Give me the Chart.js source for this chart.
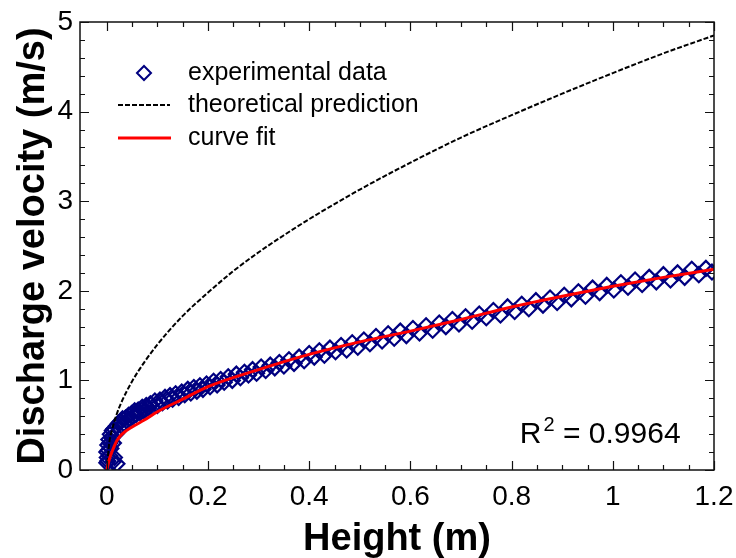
<!DOCTYPE html>
<html>
<head>
<meta charset="utf-8">
<script src="https://cdn.jsdelivr.net/npm/chart.js@4.4.1/dist/chart.umd.min.js"></script>
<style>
  html, body { margin: 0; padding: 0; background: #fff; }
  #wrap { width: 736px; height: 558px; }
</style>
</head>
<body>
<div id="wrap"><canvas id="velChart" width="736" height="558"></canvas></div>
<script>
// measured points (height m, velocity m/s)
const expH = [0.000, 0.000, 0.001, 0.002, 0.002, 0.003, 0.004, 0.005, 0.006, 0.007, 0.008, 0.010, 0.011, 0.012,
  0.013, 0.014, 0.015, 0.017, 0.019, 0.020, 0.021, 0.023, 0.025, 0.027, 0.029, 0.031, 0.034, 0.037, 0.040,
  0.043, 0.046, 0.049, 0.052, 0.055, 0.058, 0.062, 0.066, 0.070, 0.074, 0.078, 0.082, 0.086, 0.090, 0.095,
  0.100, 0.105, 0.110, 0.115, 0.120, 0.125, 0.130, 0.136, 0.142, 0.148, 0.154, 0.160, 0.166, 0.172, 0.178,
  0.184, 0.190, 0.197, 0.204, 0.211, 0.218, 0.225, 0.232, 0.240, 0.248, 0.256, 0.264, 0.272, 0.280, 0.288,
  0.296, 0.305, 0.314, 0.323, 0.332, 0.341, 0.350, 0.360, 0.370, 0.380, 0.390, 0.400, 0.410, 0.420, 0.430,
  0.441, 0.452, 0.463, 0.474, 0.485, 0.496, 0.508, 0.520, 0.532, 0.544, 0.556, 0.568, 0.580, 0.592, 0.605,
  0.618, 0.631, 0.644, 0.657, 0.670, 0.683, 0.696, 0.709, 0.722, 0.736, 0.750, 0.764, 0.778, 0.792, 0.806,
  0.820, 0.834, 0.848, 0.862, 0.876, 0.890, 0.904, 0.918, 0.932, 0.946, 0.960, 0.974, 0.988, 1.002, 1.016,
  1.030, 1.044, 1.058, 1.072, 1.086, 1.100, 1.114, 1.128, 1.142, 1.156, 1.170, 1.184, 1.196];
const expV = [0.08, 0.20, 0.14, 0.28, 0.10, 0.22, 0.34, 0.16, 0.30, 0.40, 0.24, 0.36, 0.44, 0.09,
  0.30, 0.46, 0.14, 0.40, 0.49, 0.07, 0.42, 0.52, 0.46, 0.54, 0.49, 0.57, 0.52, 0.58, 0.55,
  0.61, 0.57, 0.63, 0.60, 0.66, 0.62, 0.67, 0.64, 0.70, 0.66, 0.72, 0.69, 0.74, 0.70, 0.77,
  0.72, 0.78, 0.75, 0.81, 0.77, 0.83, 0.79, 0.85, 0.81, 0.87, 0.84, 0.90, 0.86, 0.92, 0.88,
  0.94, 0.90, 0.96, 0.93, 0.99, 0.95, 1.01, 0.98, 1.04, 1.00, 1.07, 1.03, 1.09, 1.06, 1.12,
  1.08, 1.15, 1.11, 1.17, 1.14, 1.20, 1.16, 1.23, 1.19, 1.26, 1.22, 1.30, 1.26, 1.33, 1.28,
  1.36, 1.32, 1.39, 1.34, 1.42, 1.37, 1.45, 1.41, 1.49, 1.44, 1.52, 1.47, 1.55, 1.50, 1.58,
  1.53, 1.61, 1.56, 1.64, 1.60, 1.68, 1.63, 1.71, 1.66, 1.74, 1.70, 1.78, 1.73, 1.82, 1.77,
  1.85, 1.80, 1.89, 1.84, 1.92, 1.87, 1.95, 1.91, 1.99, 1.94, 2.03, 1.98, 2.06, 2.01, 2.09,
  2.04, 2.12, 2.07, 2.15, 2.10, 2.18, 2.12, 2.20, 2.15, 2.24, 2.18, 2.25, 2.21];

// theoretical prediction
const theoH = [0, 0.005, 0.01, 0.02, 0.03, 0.05, 0.075, 0.1, 0.15, 0.2, 0.25, 0.3, 0.35, 0.4, 0.5, 0.6, 0.7, 0.8, 0.9, 1.0, 1.1, 1.2];
const theoV = [0, 0.31, 0.44, 0.63, 0.77, 0.99, 1.21, 1.40, 1.72, 1.98, 2.22, 2.43, 2.62, 2.80, 3.13, 3.43, 3.71, 3.96, 4.20, 4.43, 4.65, 4.85];

// curve fit
const fitH = [0, 0.005, 0.01, 0.02, 0.03, 0.05, 0.075, 0.1, 0.15, 0.2, 0.3, 0.4, 0.5, 0.6, 0.7, 0.8, 0.9, 1.0, 1.1, 1.2];
const fitV = [0, 0.12, 0.20, 0.33, 0.40, 0.48, 0.56, 0.65, 0.79, 0.93, 1.12, 1.29, 1.43, 1.55, 1.68, 1.82, 1.94, 2.05, 2.15, 2.24];

const xTicks = [0, 0.2, 0.4, 0.6, 0.8, 1, 1.2];
const xTickLabels = ["0", "0.2", "0.4", "0.6", "0.8", "1", "1.2"];
const yTicks = [0, 1, 2, 3, 4, 5];
const rSquared = "0.9964";

const FONT = "'Liberation Sans', Arial, sans-serif";
const NAVY = "#000080";

function pts(xs, ys) {
    return xs.map((x, i) => ({ x: x, y: ys[i] }));
}

// frame + inward ticks on all four sides
const framePlugin = {
    id: "frame",
    afterDraw(chart) {
        const ctx = chart.ctx, a = chart.chartArea;
        const xs = chart.scales.x, ys = chart.scales.y;
        ctx.save();
        ctx.strokeStyle = "#111";
        ctx.lineWidth = 1.5;
        ctx.strokeRect(a.left, a.top, a.right - a.left, a.bottom - a.top);
        ctx.lineWidth = 1.2;
        ctx.beginPath();
        for (let i = 0; i <= 24; i++) {
            const v = i * 0.05;
            const px = Math.round(xs.getPixelForValue(v)) + 0.5;
            const len = (i % 4 === 0) ? 9 : 5;
            ctx.moveTo(px, a.bottom); ctx.lineTo(px, a.bottom - len);
            ctx.moveTo(px, a.top); ctx.lineTo(px, a.top + len);
        }
        for (let i = 0; i <= 25; i++) {
            const v = i * 0.2;
            const py = Math.round(ys.getPixelForValue(v)) + 0.5;
            const len = (i % 5 === 0) ? 9 : 5;
            ctx.moveTo(a.left, py); ctx.lineTo(a.left + len, py);
            ctx.moveTo(a.right, py); ctx.lineTo(a.right - len, py);
        }
        ctx.stroke();
        ctx.restore();
    }
};

// legend in the upper left and the R^2 note
const notesPlugin = {
    id: "notes",
    afterDraw(chart) {
        const ctx = chart.ctx;
        const xs = chart.scales.x, ys = chart.scales.y;
        ctx.save();
        ctx.font = "25px " + FONT;
        ctx.fillStyle = "#000";
        ctx.textBaseline = "middle";
        ctx.textAlign = "left";

        const rows = [73, 105, 138];
        // diamond
        ctx.strokeStyle = NAVY;
        ctx.lineWidth = 2;
        ctx.beginPath();
        ctx.moveTo(137, rows[0]); ctx.lineTo(144, rows[0] - 7);
        ctx.lineTo(151, rows[0]); ctx.lineTo(144, rows[0] + 7);
        ctx.closePath();
        ctx.stroke();
        // dashed
        ctx.strokeStyle = "#000";
        ctx.lineWidth = 2;
        ctx.setLineDash([5, 2]);
        ctx.beginPath();
        ctx.moveTo(118, rows[1]); ctx.lineTo(170, rows[1]);
        ctx.stroke();
        ctx.setLineDash([]);
        // red
        ctx.strokeStyle = "#ff0000";
        ctx.lineWidth = 3;
        ctx.beginPath();
        ctx.moveTo(118, rows[2]); ctx.lineTo(171, rows[2]);
        ctx.stroke();

        ctx.fillText("experimental data", 188, rows[0]);
        ctx.fillText("theoretical prediction", 188, rows[1]);
        ctx.fillText("curve fit", 188, rows[2]);

        // R^2 = ...
        const rx = xs.getPixelForValue(1.134);
        const ry = ys.getPixelForValue(0.39);
        ctx.font = "30px " + FONT;
        ctx.textAlign = "right";
        const tail = " = " + rSquared;
        ctx.fillText(tail, rx, ry);
        const tw = ctx.measureText(tail).width;
        ctx.font = "20px " + FONT;
        const sw = ctx.measureText("2").width;
        ctx.fillText("2", rx - tw, ry - 10);
        ctx.font = "30px " + FONT;
        ctx.fillText("R", rx - tw - sw - 2, ry);
        ctx.restore();
    }
};

const ctx = document.getElementById("velChart").getContext("2d");
new Chart(ctx, {
    type: "scatter",
    data: {
        datasets: [
            {
                label: "curve fit",
                data: pts(fitH, fitV),
                showLine: true,
                borderColor: "#ff0000",
                borderWidth: 3,
                pointRadius: 0,
                cubicInterpolationMode: "monotone",
                order: 0
            },
            {
                label: "theoretical prediction",
                data: pts(theoH, theoV),
                showLine: true,
                borderColor: "#000",
                borderWidth: 2,
                borderDash: [5, 2],
                pointRadius: 0,
                cubicInterpolationMode: "monotone",
                order: 1
            },
            {
                label: "experimental data",
                data: pts(expH, expV),
                pointStyle: "rectRot",
                pointRadius: 7.5,
                pointBorderWidth: 2.2,
                pointBorderColor: NAVY,
                pointBackgroundColor: "rgba(0,0,0,0)",
                order: 2
            }
        ]
    },
    options: {
        responsive: false,
        animation: false,
        layout: { padding: { top: 22, right: 22, left: 0, bottom: 0 } },
        plugins: { legend: { display: false }, tooltip: { enabled: false } },
        scales: {
            x: {
                type: "linear",
                min: -0.053,
                max: 1.2,
                afterBuildTicks: s => { s.ticks = xTicks.map(v => ({ value: v })); },
                afterFit: s => { s.height = 88; s.paddingLeft = 0; s.paddingRight = 0; },
                grid: { display: false, drawTicks: false },
                border: { display: false },
                ticks: {
                    color: "#000",
                    padding: 10,
                    maxRotation: 0,
                    font: { family: FONT, size: 28 },
                    callback: (v) => xTickLabels[xTicks.indexOf(v)]
                },
                title: {
                    display: true,
                    text: "Height (m)",
                    color: "#000",
                    padding: { top: 0, bottom: -4 },
                    font: { family: FONT, size: 38, weight: "bold" }
                }
            },
            y: {
                type: "linear",
                min: 0,
                max: 5,
                afterBuildTicks: s => { s.ticks = yTicks.map(v => ({ value: v })); },
                afterFit: s => { s.width = 80; s.paddingTop = 0; s.paddingBottom = 0; },
                grid: { display: false, drawTicks: false },
                border: { display: false },
                ticks: {
                    color: "#000",
                    padding: 7,
                    font: { family: FONT, size: 28 }
                },
                title: {
                    display: true,
                    text: "Discharge velocity (m/s)",
                    color: "#000",
                    padding: { top: 11, bottom: 0 },
                    font: { family: FONT, size: 38, weight: "bold" }
                }
            }
        }
    },
    plugins: [framePlugin, notesPlugin]
});
</script>
</body>
</html>
